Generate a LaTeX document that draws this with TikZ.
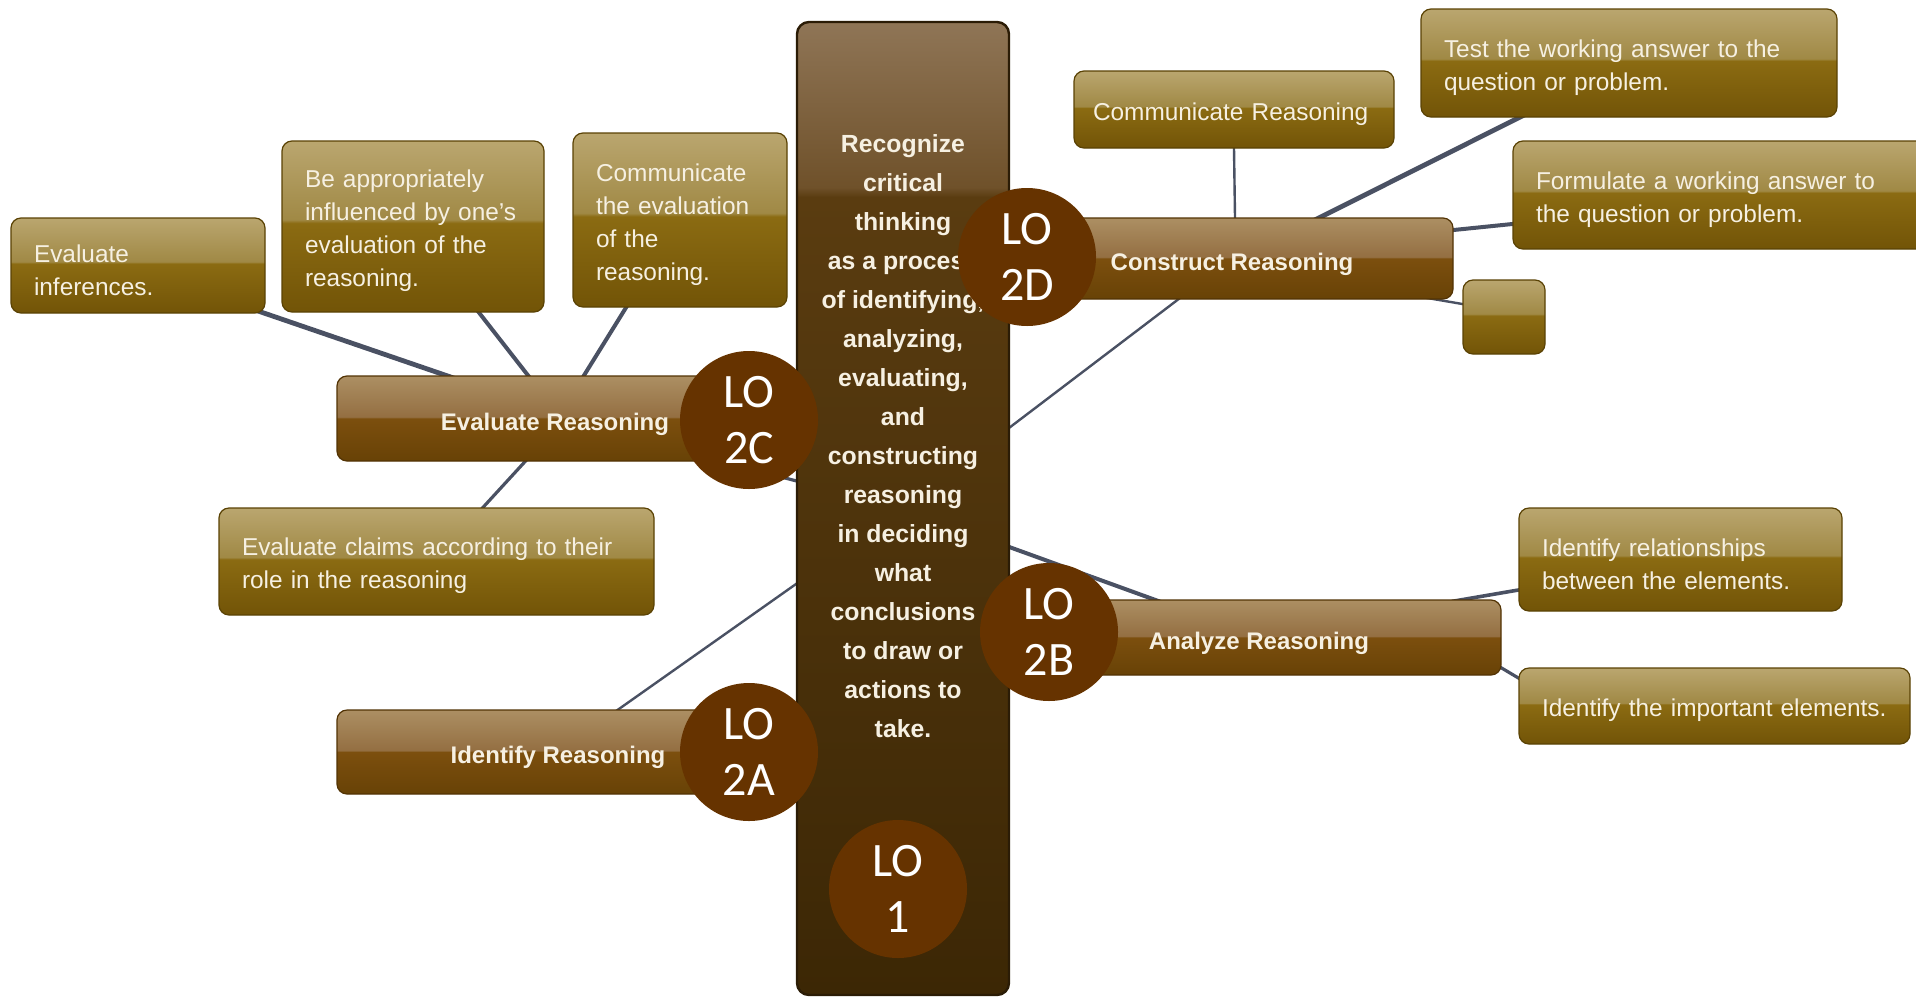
\documentclass[tikz,border=0pt]{standalone}
\usepackage{fontspec}
\setmainfont{Liberation Sans}
\newfontfamily\lofont{Carlito}
\usetikzlibrary{calc,backgrounds}
\definecolor{leafhi}{HTML}{BAA66F}
\definecolor{leafhitwo}{HTML}{A08945}
\definecolor{leafmid}{HTML}{8B6B12}
\definecolor{leafbot}{HTML}{725407}
\definecolor{leafedge}{HTML}{5A4204}
\definecolor{headhi}{HTML}{AC8F63}
\definecolor{headhitwo}{HTML}{946F42}
\definecolor{headmid}{HTML}{7C4F0E}
\definecolor{headbot}{HTML}{684206}
\definecolor{headedge}{HTML}{523304}
\definecolor{corehi}{HTML}{8F7556}
\definecolor{corehitwo}{HTML}{6F512A}
\definecolor{coremid}{HTML}{5A3C10}
\definecolor{corebot}{HTML}{3C2705}
\definecolor{coreedge}{HTML}{2B1C06}
\definecolor{lobrown}{HTML}{663300}
\definecolor{linkgray}{HTML}{4A5163}
\definecolor{paletext}{HTML}{F6F0E2}
\pgfdeclareverticalshading{leafshade}{100bp}{color(0bp)=(leafbot); color(25bp)=(leafbot); color(51bp)=(leafmid); color(52bp)=(leafhitwo); color(75bp)=(leafhi); color(100bp)=(leafhi)}
\pgfdeclareverticalshading{headshade}{100bp}{color(0bp)=(headbot); color(25bp)=(headbot); color(50bp)=(headmid); color(51bp)=(headhitwo); color(75bp)=(headhi); color(100bp)=(headhi)}
\pgfdeclareverticalshading{coreshade}{100bp}{color(0bp)=(corebot); color(25bp)=(corebot); color(66bp)=(coremid); color(66.5bp)=(corehitwo); color(75bp)=(corehi); color(100bp)=(corehi)}

\begin{document}
\begin{tikzpicture}[x=0.5pt, y=-0.5pt]
\tikzset{leaf/.style={draw=leafedge, line width=.6pt, rounded corners=5pt, shading=leafshade, align=left, inner xsep=11.5pt, text=paletext, font=\fontsize{12.2pt}{16.5pt}\selectfont, execute at begin node={\rule{0pt}{13.5pt}}}, head/.style={draw=headedge, line width=.6pt, rounded corners=5pt, shading=headshade, align=center, text=paletext, font=\bfseries\fontsize{12pt}{14pt}\selectfont, execute at begin node={\rule{0pt}{14.5pt}}}, lo/.style={circle, fill=lobrown, text=white, inner sep=0pt, minimum size=69pt, align=center, font=\lofont\fontsize{24pt}{28pt}\selectfont}, link/.style={draw=linkgray, line width=1.6pt, shorten <=-6pt, shorten >=-6pt}}
\useasboundingbox (0,0) rectangle (1916,996);
\clip (0,0) rectangle (1916,996);
% left branches
\node[leaf, text width=104pt, minimum height=47.5pt] (inf) at (138,265.5) {Evaluate\\inferences.};
\node[leaf, text width=108pt, minimum height=85.5pt] (infl) at (413,226.5) {Be appropriately\\influenced by one's\\evaluation of the\\reasoning.};
\node[leaf, text width=84pt, minimum height=87pt] (comev) at (680,220) {Communicate\\the evaluation\\of the\\reasoning.};
\node[head, minimum width=218pt, minimum height=42.5pt] (evalr) at (555,418.5) {Evaluate Reasoning};
\node[leaf, text width=194.5pt, minimum height=53.5pt] (claims) at (436.5,561.5) {Evaluate claims according to their\\role in the reasoning};
\node[head, minimum width=221pt, minimum height=42pt] (identr) at (558,752) {Identify Reasoning};
% right branches
\node[leaf, text width=141pt, inner xsep=9.5pt, minimum height=38.5pt] (comr) at (1234,109.5) {Communicate Reasoning};
\node[leaf, text width=185pt, minimum height=54pt] (testans) at (1629,63) {Test the working answer to the\\question or problem.};
\node[leaf, text width=185pt, minimum height=54pt] (formans) at (1721,195) {Formulate a working answer to\\the question or problem.};
\node[head, minimum width=221pt, minimum height=40.5pt] (constr) at (1232,258.5) {Construct Reasoning};
\node[leaf, minimum width=41pt, minimum height=37pt, inner xsep=0pt, execute at begin node={}] (blank) at (1504,317) {};
\node[head, minimum width=242pt, minimum height=37.5pt] (analr) at (1259,637.5) {Analyze Reasoning};
\node[leaf, text width=138.5pt, minimum height=51.5pt] (relat) at (1680.5,559.5) {Identify relationships\\between the elements.};
\node[leaf, text width=172.5pt, minimum height=38pt] (important) at (1714.5,706) {Identify the important elements.};
% centre column
\node[draw=coreedge, line width=1.2pt, rounded corners=6pt, shading=coreshade, minimum width=106pt, minimum height=486.5pt] (core) at (903,508.5) {};
\node[text=paletext, align=center, font=\bfseries\fontsize{12.4pt}{19.5pt}\selectfont] (coretext) at (903,436) {Recognize\\critical\\thinking\\as a process\\of identifying,\\analyzing,\\evaluating,\\and\\constructing\\reasoning\\in deciding\\what\\conclusions\\to draw or\\actions to\\take.};
% connectors
\begin{scope}[on background layer]
\draw[link, line width=2.4pt] (inf.south east) -- ($(evalr.north)+(-109,0)$); \draw[link, line width=2pt] ($(infl.south)+(66,0)$) -- ($(evalr.north)+(-27,0)$); \draw[link, line width=2pt] ($(comev.south)+(-54,0)$) -- ($(evalr.north)+(29,0)$);
\draw[link, line width=1.6pt] ($(evalr.south)+(-30,0)$) -- ($(claims.north)+(46.5,0)$); \draw[link] (evalr.center) -- (core.center); \draw[link, line width=1.2pt] (identr.center) -- (core.center);
\draw[link, line width=1.2pt] (constr.center) -- (core.center); \draw[link, line width=2pt] (analr.center) -- (core.center);
\draw[link, line width=1.2pt] (comr.south) -- ($(constr.north)+(3,0)$); \draw[link, line width=2.4pt] ($(testans.south)+(-110,0)$) -- ($(constr.north)+(88,0)$); \draw[link, line width=2pt] ($(formans.west)+(0,29)$) -- ($(constr.east)+(0,-28.5)$);
\draw[link, line width=1.2pt] ($(blank.west)+(0,-13)$) -- ($(constr.south east)+(-17,0)$); \draw[link, line width=1.8pt] ($(relat.west)+(0,30.5)$) -- ($(analr.north east)+(-38,0)$); \draw[link, line width=1.6pt] ($(important.west)+(0,-28)$) -- ($(analr.east)+(0,30.5)$);
\end{scope}
% LO markers
\node[lo] (lo2d) at (1027,257) {LO\\2D};
\node[lo] (lo2c) at (749,420) {LO\\2C};
\node[lo] (lo2b) at (1049,632) {LO\\2B};
\node[lo] (lo2a) at (749,752) {LO\\2A};
\node[lo] (lo1) at (898,889) {LO\\1};
\end{tikzpicture}
\end{document}
